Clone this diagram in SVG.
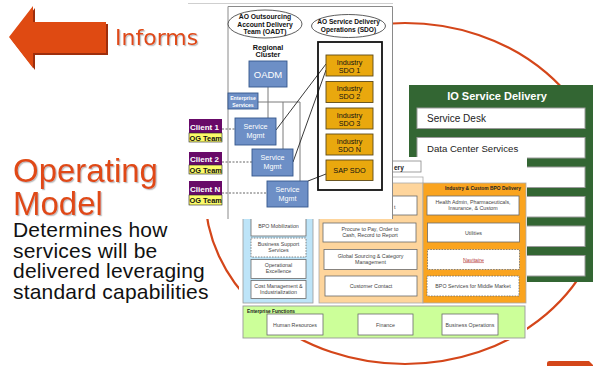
<svg xmlns="http://www.w3.org/2000/svg" width="593" height="366" viewBox="0 0 593 366">
  <style>
    .sans { font-family: "Liberation Sans", Arial, sans-serif; }
    .bold { font-weight: bold; }
    .mid { text-anchor: middle; }
    .blue { fill: #6d8fc6; stroke: #34578c; stroke-width: 0.9; }
    .sdo { fill: #e9a80e; stroke: #5e4a18; stroke-width: 0.9; }
    .wtxt { fill: #ffffff; }
    .ktxt { fill: #111111; }
    .tiny { font-size: 5.3px; fill: #444444; }
    .cell { fill: #ffffff; stroke: #6a6a6a; stroke-width: 0.8; }
    .dash { stroke-dasharray: 1.6 1.2; }
    .gray { stroke: #7a7a7a; stroke-width: 1; fill: none; }
    .dark { stroke: #222222; stroke-width: 0.9; fill: none; }
    .dotted { stroke: #555555; stroke-width: 0.9; stroke-dasharray: 2 1.5; fill: none; }
    .row { fill: #ffffff; stroke: #9a9a9a; stroke-width: 1; }
    .red { fill: #e04a14; }
  </style>
  <defs>
    <filter id="soft-shadow" x="-10%" y="-10%" width="130%" height="140%">
      <feDropShadow dx="1.2" dy="1.2" stdDeviation="0.6" flood-color="#8a8a8a" flood-opacity="0.55"/>
    </filter>
  </defs>

  <rect x="0" y="0" width="593" height="366" fill="#ffffff"/>

  <!-- cycle ring behind the panels -->
  <g id="cycle">
    <ellipse cx="405" cy="193.5" rx="200" ry="170.5" fill="none" stroke="#d4461a" stroke-width="2.2"/>
  </g>

  <!-- IO Service Delivery panel -->
  <g id="io-service-delivery">
    <rect x="409" y="85" width="190" height="197" fill="#336633"/>
    <text x="497" y="100" class="sans bold mid wtxt" font-size="11">IO Service Delivery</text>
    <rect class="row" x="417" y="108" width="168" height="20.5"/>
    <text x="427" y="121.5" class="sans" font-size="10" fill="#222">Service Desk</text>
    <rect class="row" x="417" y="137.5" width="168" height="20.5"/>
    <text x="427" y="151.5" class="sans" font-size="9.6" fill="#222">Data Center Services</text>
    <rect class="row" x="417" y="167" width="168" height="20.5"/>
    <rect class="row" x="417" y="196.5" width="168" height="20.5"/>
    <rect class="row" x="417" y="226" width="168" height="20.5"/>
    <rect class="row" x="417" y="255.5" width="168" height="20.5"/>
  </g>

  <!-- BPO delivery panel -->
  <g id="bpo-delivery">
    <rect x="239" y="157" width="288" height="183" fill="#ffffff"/>
    <rect x="330" y="161" width="91" height="11" fill="#ffffff" stroke="#888" stroke-width="0.8"/>
    <text x="394" y="169.5" class="sans bold" font-size="6.5" fill="#222">ery</text>
    <rect x="330" y="177" width="93" height="7" fill="#ffffff" stroke="#aaa" stroke-width="0.8"/>

    <g id="shared-services">
      <rect x="243" y="190" width="70" height="113" fill="#bde4f8" stroke="#9a9a9a" stroke-width="0.8"/>
      <rect class="cell" x="251" y="212" width="55" height="24"/>
      <text x="278.5" y="227.5" class="sans mid tiny">BPO Mobilization</text>
      <rect class="cell dash" x="251" y="238" width="55" height="19"/>
      <text x="278.5" y="246" class="sans mid tiny">Business Support</text>
      <text x="278.5" y="252" class="sans mid tiny">Services</text>
      <rect class="cell" x="251" y="259.5" width="55" height="19"/>
      <text x="278.5" y="267" class="sans mid tiny">Operational</text>
      <text x="278.5" y="273" class="sans mid tiny">Excellence</text>
      <rect class="cell" x="251" y="280.5" width="55" height="18"/>
      <text x="278.5" y="288" class="sans mid tiny">Cost Management &amp;</text>
      <text x="278.5" y="294" class="sans mid tiny">Industrialization</text>
    </g>

    <g id="horizontal-bpo">
      <rect x="319" y="183" width="104" height="120" fill="#fed59c" stroke="#aaa" stroke-width="0.8"/>
      <rect class="cell" x="326" y="196" width="91" height="19"/>
      <text x="394" y="208.5" class="sans tiny">t</text>
      <rect class="cell" x="323" y="223" width="93" height="19"/>
      <text x="370" y="231" class="sans mid tiny">Procure to Pay, Order to</text>
      <text x="370" y="237" class="sans mid tiny">Cash, Record to Report</text>
      <rect class="cell" x="324" y="249.5" width="93" height="20"/>
      <text x="370.5" y="257.5" class="sans mid tiny">Global Sourcing &amp; Category</text>
      <text x="370.5" y="263.5" class="sans mid tiny">Management</text>
      <rect class="cell" x="325" y="276" width="92" height="20"/>
      <text x="371" y="288" class="sans mid tiny">Customer Contact</text>
    </g>

    <g id="industry-bpo">
      <rect x="423" y="183" width="103" height="120" fill="#faa41f" stroke="#aaa" stroke-width="0.8"/>
      <text x="521" y="189.5" class="sans bold" font-size="4.9" fill="#222" text-anchor="end">Industry &amp; Custom BPO Delivery</text>
      <rect class="cell" x="427" y="196" width="92" height="19"/>
      <text x="473" y="203.5" class="sans mid tiny">Health Admin, Pharmaceuticals,</text>
      <text x="473" y="209.5" class="sans mid tiny">Insurance, &amp; Custom</text>
      <rect class="cell" x="427.5" y="223" width="92" height="19"/>
      <text x="473.5" y="234.5" class="sans mid tiny">Utilities</text>
      <rect class="cell dash" x="427.5" y="249.5" width="92" height="20"/>
      <text x="473.5" y="261.5" class="sans mid" font-size="5.3" fill="#b43a3a" text-decoration="underline">Navitaire</text>
      <rect class="cell dash" x="427" y="276" width="92" height="20"/>
      <text x="473" y="288" class="sans mid tiny">BPO Services for Middle Market</text>
    </g>

    <g id="enterprise-functions">
      <rect x="243" y="306" width="282" height="32" fill="#ccff99" stroke="#999" stroke-width="0.9"/>
      <text x="247" y="312.5" class="sans bold" font-size="4.8" fill="#222">Enterprise Functions</text>
      <rect class="cell" x="267" y="314" width="56" height="21"/>
      <text x="295" y="326.5" class="sans mid tiny">Human Resources</text>
      <rect class="cell" x="358" y="314" width="55" height="21"/>
      <text x="385.5" y="326.5" class="sans mid tiny">Finance</text>
      <rect class="cell" x="442" y="314" width="56" height="21"/>
      <text x="470" y="326.5" class="sans mid tiny">Business Operations</text>
    </g>
  </g>

  <!-- account delivery / service delivery operations chart -->
  <g id="oadt-chart">
    <rect x="188" y="3" width="205" height="216" fill="#ffffff"/>
    <line x1="188" y1="3.5" x2="393" y2="3.5" stroke="#cfcfcf" stroke-width="1"/>
    <path d="M228,219 V6.5 H392.5 V219" fill="none" stroke="#8a8a8a" stroke-width="1"/>

    <g id="oadt-team">
      <ellipse cx="265" cy="24" rx="37" ry="14" fill="#ffffff" stroke="#333" stroke-width="0.8"/>
      <text x="265" y="19.3" class="sans bold mid ktxt" font-size="6.8">AO Outsourcing</text>
      <text x="265" y="26.7" class="sans bold mid ktxt" font-size="6.8">Account Delivery</text>
      <text x="265" y="34.2" class="sans bold mid ktxt" font-size="6.8">Team (OADT)</text>
    </g>
    <g id="sdo-team">
      <ellipse cx="348.5" cy="26" rx="37" ry="11.5" fill="#ffffff" stroke="#333" stroke-width="0.8"/>
      <text x="348.5" y="24" class="sans bold mid ktxt" font-size="6.6">AO Service Delivery</text>
      <text x="348.5" y="31.7" class="sans bold mid ktxt" font-size="6.6">Operations (SDO)</text>
    </g>
    <g id="regional-cluster">
      <text x="268" y="49.8" class="sans bold mid ktxt" font-size="7.2">Regional</text>
      <text x="268" y="57" class="sans bold mid ktxt" font-size="7.2">Cluster</text>
    </g>

    <g id="connectors">
      <line class="gray" x1="268" y1="87" x2="268" y2="118"/>
      <line class="gray" x1="258" y1="102" x2="300" y2="102"/>
      <line class="gray" x1="283" y1="102" x2="283" y2="149"/>
      <line class="gray" x1="300" y1="102" x2="300" y2="181"/>
      <line class="dark" x1="276" y1="130" x2="326" y2="64"/>
      <line class="dark" x1="293" y1="162" x2="326" y2="70"/>
      <line class="dark" x1="308" y1="181" x2="326" y2="174"/>
      <line class="dotted" x1="222" y1="129" x2="235" y2="129"/>
      <line class="dotted" x1="222" y1="162" x2="252" y2="162"/>
      <line class="dotted" x1="222" y1="193" x2="267" y2="193"/>
    </g>

    <g id="oadm">
      <rect class="blue" x="249" y="61" width="38" height="26"/>
      <text x="268" y="77.5" class="sans mid wtxt" font-size="9.5">OADM</text>
    </g>
    <g id="enterprise-services">
      <rect class="blue" x="228" y="93" width="30" height="16"/>
      <text x="243" y="100" class="sans bold mid wtxt" font-size="5.2">Enterprise</text>
      <text x="243" y="106.5" class="sans bold mid wtxt" font-size="5.2">Services</text>
    </g>

    <g id="sdo-group">
      <rect x="318" y="42" width="64" height="148" fill="none" stroke="#111" stroke-width="1.8"/>
      <g id="industry-sdo-1">
        <rect class="sdo" x="326" y="55" width="47" height="21"/>
        <text x="349.5" y="64.5" class="sans mid ktxt" font-size="7.2">Industry</text>
        <text x="349.5" y="72.5" class="sans mid ktxt" font-size="7.2">SDO 1</text>
      </g>
      <g id="industry-sdo-2">
        <rect class="sdo" x="326" y="81.5" width="47" height="21"/>
        <text x="349.5" y="91" class="sans mid ktxt" font-size="7.2">Industry</text>
        <text x="349.5" y="99" class="sans mid ktxt" font-size="7.2">SDO 2</text>
      </g>
      <g id="industry-sdo-3">
        <rect class="sdo" x="326" y="108" width="47" height="21"/>
        <text x="349.5" y="117.5" class="sans mid ktxt" font-size="7.2">Industry</text>
        <text x="349.5" y="125.5" class="sans mid ktxt" font-size="7.2">SDO 3</text>
      </g>
      <g id="industry-sdo-n">
        <rect class="sdo" x="326" y="134" width="47" height="21"/>
        <text x="349.5" y="143.5" class="sans mid ktxt" font-size="7.2">Industry</text>
        <text x="349.5" y="151.5" class="sans mid ktxt" font-size="7.2">SDO N</text>
      </g>
      <g id="sap-sdo">
        <rect class="sdo" x="326" y="160" width="47" height="20.5"/>
        <text x="349.5" y="173" class="sans mid ktxt" font-size="7.3">SAP SDO</text>
      </g>
    </g>

    <g id="service-mgmt-1">
      <rect class="blue" x="235" y="118" width="41" height="27"/>
      <text x="255.5" y="128.5" class="sans mid wtxt" font-size="7.2">Service</text>
      <text x="255.5" y="137.5" class="sans mid wtxt" font-size="7.2">Mgmt</text>
    </g>
    <g id="service-mgmt-2">
      <rect class="blue" x="252" y="149" width="41" height="27"/>
      <text x="272.5" y="160" class="sans mid wtxt" font-size="7.2">Service</text>
      <text x="272.5" y="169" class="sans mid wtxt" font-size="7.2">Mgmt</text>
    </g>
    <g id="service-mgmt-3">
      <rect class="blue" x="267" y="181" width="41" height="26"/>
      <text x="287.5" y="191.5" class="sans mid wtxt" font-size="7.2">Service</text>
      <text x="287.5" y="200.5" class="sans mid wtxt" font-size="7.2">Mgmt</text>
    </g>

    <g id="client-1">
      <rect x="189" y="119" width="33" height="14" fill="#680a68"/>
      <rect x="189" y="133" width="33" height="9" fill="#fbfb6a" stroke="#222" stroke-width="0.6"/>
      <text x="190" y="129.5" class="sans bold wtxt" font-size="8">Client 1</text>
      <text x="189.5" y="140.5" class="sans bold ktxt" font-size="7.4">OG Team</text>
    </g>
    <g id="client-2">
      <rect x="189" y="152" width="33" height="13" fill="#680a68"/>
      <rect x="189" y="165" width="33" height="9" fill="#fbfb6a" stroke="#222" stroke-width="0.6"/>
      <text x="190" y="162" class="sans bold wtxt" font-size="8">Client 2</text>
      <text x="189.5" y="172.5" class="sans bold ktxt" font-size="7.4">OG Team</text>
    </g>
    <g id="client-n">
      <rect x="189" y="181" width="33" height="14" fill="#680a68"/>
      <rect x="189" y="195" width="33" height="10" fill="#fbfb6a" stroke="#222" stroke-width="0.6"/>
      <text x="190" y="191.5" class="sans bold wtxt" font-size="8">Client N</text>
      <text x="189.5" y="203" class="sans bold ktxt" font-size="7.4">OG Team</text>
    </g>
  </g>

  <!-- Informs arrow -->
  <g id="informs">
    <polygon points="11,39 35,8 35,24 108,24 108,55 35,55 35,70" fill="#9e2e0c"/>
    <polygon points="9,37 33,6 33,22 106,22 106,53 33,53 33,68" fill="#df4a12"/>
    <text x="115" y="45" font-family="'DejaVu Sans', Verdana, sans-serif" font-size="22" class="red" filter="url(#soft-shadow)">Informs</text>
  </g>

  <!-- partial arrow at the lower edge -->
  <g id="lower-arrow">
    <path d="M547,366 V363 Q547,361 549.5,361 H589 L594,366 Z" fill="#d4471a"/>
  </g>

  <!-- operating model caption -->
  <g id="operating-model">
    <text x="13" y="182" class="sans red" font-size="33" filter="url(#soft-shadow)">Operating</text>
    <text x="13" y="214.5" class="sans red" font-size="33" filter="url(#soft-shadow)">Model</text>
    <g class="sans" font-size="21" fill="#111" letter-spacing="0.2">
      <text x="13" y="236.5">Determines how</text>
      <text x="13" y="257.5">services will be</text>
      <text x="13" y="278">delivered leveraging</text>
      <text x="13" y="298.5">standard capabilities</text>
    </g>
  </g>
</svg>
